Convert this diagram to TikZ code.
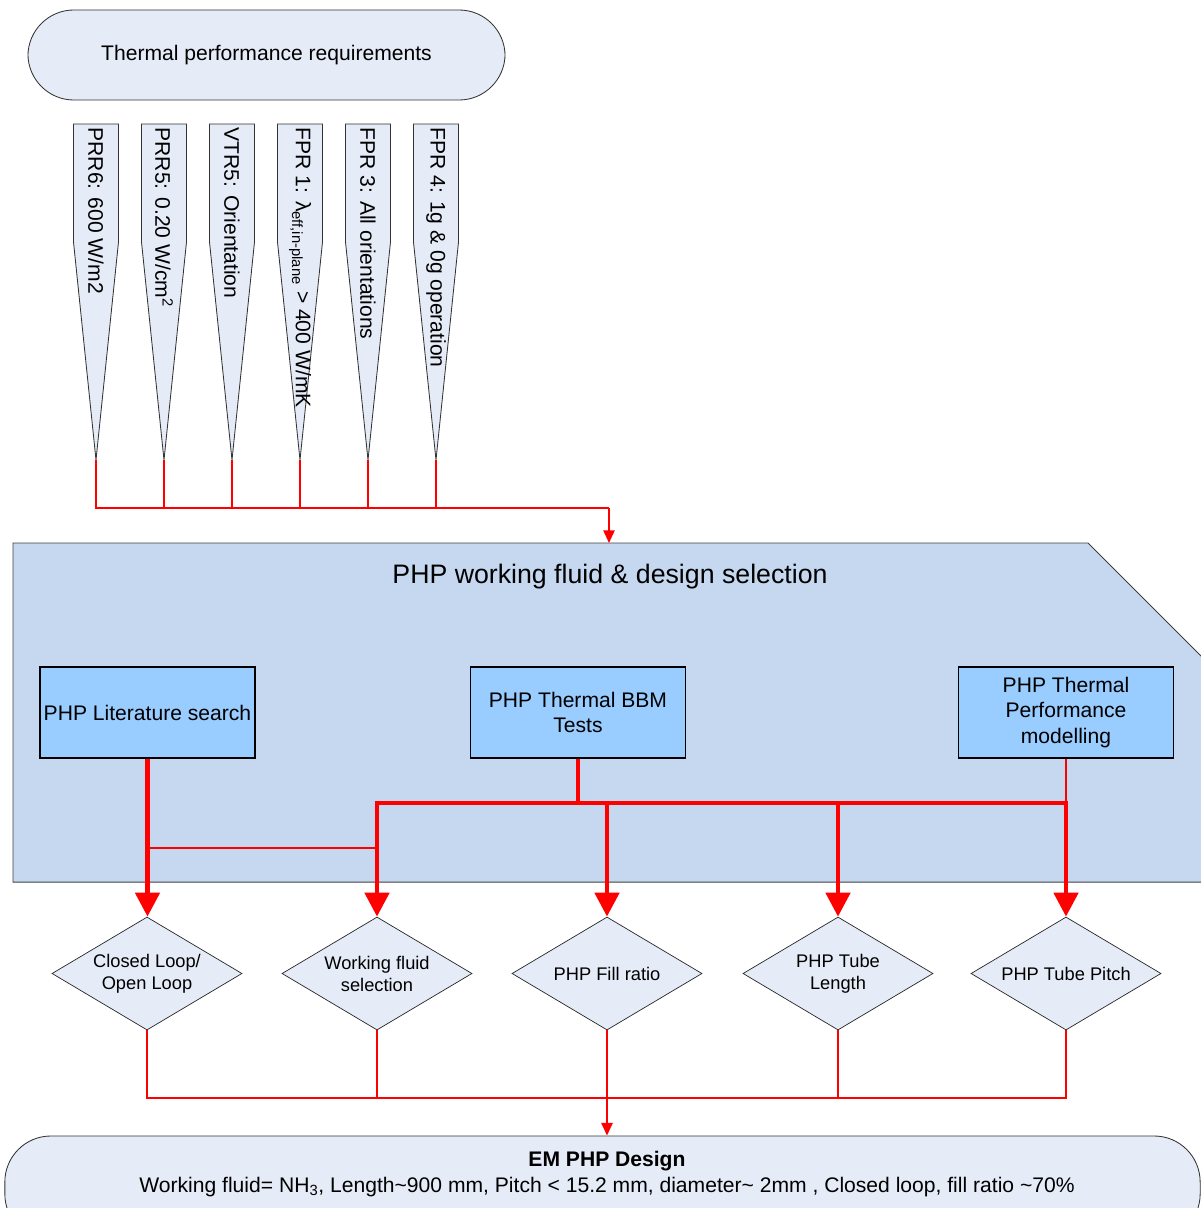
\documentclass[tikz,border=0pt]{standalone}
\usepackage{fontspec}
\setmainfont{Liberation Sans}
\usetikzlibrary{arrows.meta,positioning,shapes.geometric}
\definecolor{termfill}{RGB}{230,236,247}
\definecolor{panelfill}{RGB}{198,216,240}
\definecolor{taskfill}{RGB}{153,204,255}
\definecolor{linkred}{RGB}{255,0,0}

\begin{document}
\begin{tikzpicture}[x=0.025cm, y=-0.025cm,
  term/.style={draw=black!80, fill=termfill, rounded corners=1.15cm, line width=0.6pt},
  task/.style={draw=black, fill=taskfill, line width=1pt, minimum width=5.375cm, minimum height=2.275cm,
    align=center, inner sep=1pt, font=\fontsize{15}{18}\selectfont},
  choice/.style={diamond, draw=black!85, fill=termfill, line width=0.5pt, aspect=1.68,
    minimum width=4.75cm, minimum height=2.825cm, inner sep=0pt, align=center,
    font=\fontsize{13}{15.6}\selectfont},
  wire/.style={draw=linkred, line width=1.3pt},
  bus/.style={draw=linkred, line width=3.4pt},
  wirearrow/.style={wire, -{Triangle[length=9pt,width=8pt]}},
  busarrow/.style={bus, -{Triangle[length=17pt,width=17pt]}}]
\useasboundingbox (0,0) rectangle (1201,1208);
\clip (0,0) rectangle (1201,1208);
%--- requirements ---
\node[term, minimum width=11.925cm, minimum height=2.25cm, font=\fontsize{15}{18}\selectfont]
  (req) at (266.5,55) {Thermal performance requirements};
% spokes
\foreach \txt [count=\i] in {{PRR6: 600 W/m2}, {PRR5: 0.20 W/cm\textsuperscript{2}},
    {VTR5: Orientation}, {FPR 1: λ\textsubscript{eff,in-plane} > 400 W/mK},
    {FPR 3: All orientations}, {FPR 4: 1g \& 0g operation}} {
  \pgfmathsetmacro\cx{28+68*\i}
  \draw[draw=black!80, fill=termfill, line width=0.6pt] (\cx-22.5,124) -- (\cx+22.5,124)
    -- (\cx+22.5,242) -- (\cx,460) -- (\cx-22.5,242) -- cycle;
  \node[rotate=-90, anchor=west, inner sep=1pt, font=\fontsize{15}{18}\selectfont]
    (spoke\i) at (\cx,126) {\txt};
  \coordinate (tip\i) at (\cx,460);
}
\coordinate (jt) at (609,508);
\coordinate (intop) at (609,543);
%--- selection panel ---
\fill[panelfill] (13,543) -- (1088,543) -- (1230,685) -- (1230,882) -- (13,882) -- cycle;
\draw[black!75, line width=0.7pt] (13,543) -- (1088,543) -- (1230,685) -- (1230,882) -- (13,882) -- cycle;
\node[font=\fontsize{19}{23}\selectfont] (title) at (610,577) {PHP working fluid \& design selection};
\node[task] (lit) at (147.5,712.5) {PHP Literature search};
\node[task] (bbm) at (578,712.5) {PHP Thermal BBM\\Tests};
\node[task] (mod) at (1066,712.5) {PHP Thermal\\Performance\\modelling};
%--- parameters ---
\foreach \xc/\txt [count=\i] in {147/{Closed Loop/\\Open Loop}, 377/{Working fluid\\selection},
    607/{PHP Fill ratio}, 838/{PHP Tube\\Length}, 1066/{PHP Tube Pitch}}
  \node[choice] (d\i) at (\xc,973.5) {\txt};
\coordinate (jb) at (578,803);
\coordinate (jl) at (147,848);
\coordinate (jd) at (607,1098);
%--- design ---
\node[term, minimum width=29.875cm, minimum height=2.6cm] (design) at (602.5,1188) {};
\node[align=center, font=\fontsize{15}{18}\selectfont] (designnote) at (607,1174)
  {\textbf{EM PHP Design}\\Working fluid= NH\textsubscript{3}, Length\textasciitilde 900 mm,
   Pitch < 15.2 mm, diameter\textasciitilde{} 2mm , Closed loop, fill ratio \textasciitilde 70\%};
%--- connectors ---
\draw[wire] (tip1) |- (jt);
\foreach \i in {2,...,6} \draw[wire] (tip\i) -- (tip\i |- jt);
\draw[wirearrow] (jt) -- (intop);
\draw[busarrow] (lit.south) -- (lit.south |- d1.north);
\draw[bus] (bbm.south) -- (bbm.south |- jb);
\draw[wire] (mod.south) -- (mod.south |- jb);
\draw[bus, line cap=rect] (d2.north |- jb) -- (d5.north |- jb);
\foreach \i in {2,...,5} \draw[busarrow] (d\i.north |- jb) -- (d\i.north);
\draw[wire] (lit.south |- jl) -- (d2.north |- jl);
\draw[wire] (d1.south) |- (jd -| d5.south) -- (d5.south);
\foreach \i in {2,4} \draw[wire] (d\i.south) -- (d\i.south |- jd);
\draw[wirearrow] (d3.south) -- (d3.south |- design.north);
\end{tikzpicture}
\end{document}
